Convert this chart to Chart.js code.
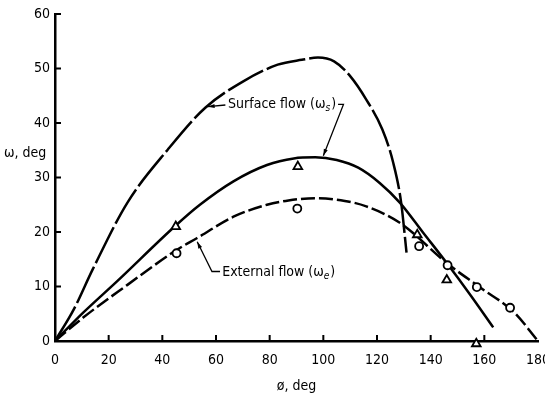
<!DOCTYPE html>
<html>
<head>
<meta charset="utf-8">
<script src="https://cdn.jsdelivr.net/npm/chart.js@4"></script>
<style>
  html, body { margin: 0; padding: 0; background: #fff; }
</style>
</head>
<body>
<canvas id="grafico" width="545" height="395"></canvas>
<script>
// curva de flujo superficial (la de arriba, que cae casi vertical)
let phiSuperficie = [0, 7, 14, 27, 42, 56, 70, 83, 92, 98, 104, 110, 116, 122, 126, 129, 131];
let omegaSuperficie = [0, 5.8, 13.1, 25.4, 35.1, 42.8, 47.6, 50.7, 51.6, 52, 51.3, 48.6, 44.3, 38.8, 32.8, 25.4, 16.2];

// curva continua del medio
let phiMedio = [0, 10.5, 23, 45, 54, 66.5, 79, 89, 97, 105, 113, 121, 128.5, 137, 146, 155, 163.3];
let omegaMedio = [0, 5.2, 10.9, 21.2, 25, 29.3, 32.3, 33.5, 33.7, 33.2, 31.8, 29, 25.4, 20, 14.3, 8.3, 2.5];

// flujo externo (punteada)
let phiExterno = [0, 10.5, 27, 45, 53, 66.5, 79, 87, 97, 108, 116, 128.5, 146, 158.5, 171, 180];
let omegaExterno = [0, 4.3, 10.3, 16.6, 18.9, 22.8, 25, 25.8, 26.2, 25.7, 24.7, 21.7, 14.3, 9.8, 5.3, 0];

// mediciones
let phiTriangulos = [45, 90.5, 135, 146, 157];
let omegaTriangulos = [21, 32, 19.5, 11.2, -0.5];
let phiCirculos = [45.3, 90.3, 135.7, 146.3, 157.2, 169.6];
let omegaCirculos = [16.1, 24.3, 17.4, 13.9, 9.9, 6.1];

let ticksX = [0, 20, 40, 60, 80, 100, 120, 140, 160, 180];
let ticksY = [0, 10, 20, 30, 40, 50, 60];

let fuente = "'Liberation Sans Narrow', 'DejaVu Sans Condensed', 'Liberation Sans', sans-serif";

let puntos = (xs, ys) => xs.map((x, i) => ({ x: x, y: ys[i] }));

let curva = (xs, ys, dash) => ({
    data: puntos(xs, ys),
    borderColor: '#000',
    borderWidth: 2.5,
    borderDash: dash,
    pointRadius: 0,
    cubicInterpolationMode: 'monotone',
    fill: false
});

let marcador = (xs, ys, estilo, radio) => ({
    data: puntos(xs, ys),
    showLine: false,
    pointStyle: estilo,
    pointRadius: radio,
    pointBorderColor: '#000',
    pointBackgroundColor: '#fff',
    pointBorderWidth: 1.8,
    clip: false
});

// flecha desde una lista de puntos en coordenadas de datos, punta en el ultimo
let flecha = (ctx, x, y, pts) => {
    let px = pts.map(p => [x.getPixelForValue(p[0]), y.getPixelForValue(p[1])]);
    ctx.beginPath();
    ctx.moveTo(px[0][0], px[0][1]);
    for (let i = 1; i < px.length; i++) ctx.lineTo(px[i][0], px[i][1]);
    ctx.lineWidth = 1.3;
    ctx.stroke();
    let a = px[px.length - 2], b = px[px.length - 1];
    let ang = Math.atan2(b[1] - a[1], b[0] - a[0]);
    ctx.beginPath();
    ctx.moveTo(b[0], b[1]);
    ctx.lineTo(b[0] - 7 * Math.cos(ang - 0.3), b[1] - 7 * Math.sin(ang - 0.3));
    ctx.lineTo(b[0] - 7 * Math.cos(ang + 0.3), b[1] - 7 * Math.sin(ang + 0.3));
    ctx.closePath();
    ctx.fill();
}

let etiqueta = (ctx, texto, sub, x, y) => {
    ctx.textAlign = 'left';
    ctx.textBaseline = 'middle';
    ctx.font = `14px ${fuente}`;
    ctx.fillText(texto, x, y);
    let w = ctx.measureText(texto).width;
    ctx.font = `italic 10px ${fuente}`;
    ctx.fillText(sub, x + w, y + 4);
    let w2 = ctx.measureText(sub).width;
    ctx.font = `14px ${fuente}`;
    ctx.fillText(')', x + w + w2 + 1, y);
    return x + w + w2 + 1 + ctx.measureText(')').width;
}

let extras = {
    id: 'extras',
    afterDraw(chart) {
        let ctx = chart.ctx;
        let area = chart.chartArea;
        let x = chart.scales.x;
        let y = chart.scales.y;
        ctx.save();
        ctx.strokeStyle = '#000';
        ctx.fillStyle = '#000';

        // marcas de los ejes hacia adentro
        ctx.lineWidth = 2;
        ctx.beginPath();
        ticksX.slice(1, -1).forEach(v => {
            let p = x.getPixelForValue(v);
            ctx.moveTo(p, area.bottom);
            ctx.lineTo(p, area.bottom - 6);
        });
        ticksY.slice(1).forEach(v => {
            let p = y.getPixelForValue(v);
            ctx.moveTo(area.left, p);
            ctx.lineTo(area.left + 6, p);
        });
        ctx.stroke();

        // titulo del eje y, horizontal
        ctx.font = `14px ${fuente}`;
        ctx.textAlign = 'left';
        ctx.textBaseline = 'middle';
        ctx.fillText('ω, deg', 4, y.getPixelForValue(34.5));

        // rotulos de las curvas
        let fin = etiqueta(ctx, 'Surface flow (ω', 's', x.getPixelForValue(64.5), y.getPixelForValue(43.4));
        flecha(ctx, x, y, [[63.5, 43.3], [57, 43]]);
        let xf = x.getValueForPixel(fin + 2);
        flecha(ctx, x, y, [[xf, 43.4], [107.5, 43.4], [100, 34]]);

        etiqueta(ctx, 'External flow (ω', 'e', x.getPixelForValue(62.3), y.getPixelForValue(12.6));
        flecha(ctx, x, y, [[61.5, 12.75], [58.5, 12.75], [53, 18.2]]);
        ctx.restore();
    }
};

let sinRelleno = s => { s.paddingLeft = 0; s.paddingRight = 0; s.paddingTop = 0; s.paddingBottom = 0; };

new Chart(document.getElementById('grafico'), {
    type: 'line',
    data: {
        datasets: [
            marcador(phiTriangulos, omegaTriangulos, 'triangle', 5),
            marcador(phiCirculos, omegaCirculos, 'circle', 4),
            curva(phiSuperficie, omegaSuperficie, [40, 4]),
            curva(phiMedio, omegaMedio, []),
            curva(phiExterno, omegaExterno, [14, 4])
        ]
    },
    options: {
        responsive: false,
        animation: false,
        layout: { padding: { top: 14, right: 7, left: 0, bottom: 0 } },
        plugins: { legend: { display: false }, tooltip: { enabled: false } },
        scales: {
            x: {
                type: 'linear',
                min: 0,
                max: 180,
                afterBuildTicks: s => { s.ticks = ticksX.map(v => ({ value: v })); },
                grid: { display: false, drawTicks: false },
                border: { display: true, color: '#000', width: 2.5 },
                ticks: { color: '#000', font: { family: fuente, size: 14 }, padding: 11, maxRotation: 0, autoSkip: false },
                title: { display: true, text: 'ø, deg', color: '#000', font: { family: fuente, size: 14 }, padding: { top: 0, bottom: 0 } },
                afterFit: s => { s.height = 54; sinRelleno(s); }
            },
            y: {
                min: 0,
                max: 60,
                afterBuildTicks: s => { s.ticks = ticksY.map(v => ({ value: v })); },
                grid: { display: false, drawTicks: false },
                border: { display: true, color: '#000', width: 2.5 },
                ticks: { color: '#000', font: { family: fuente, size: 14 }, padding: 5 },
                afterFit: s => { s.width = 55; sinRelleno(s); }
            }
        }
    },
    plugins: [extras]
});
</script>
</body>
</html>
